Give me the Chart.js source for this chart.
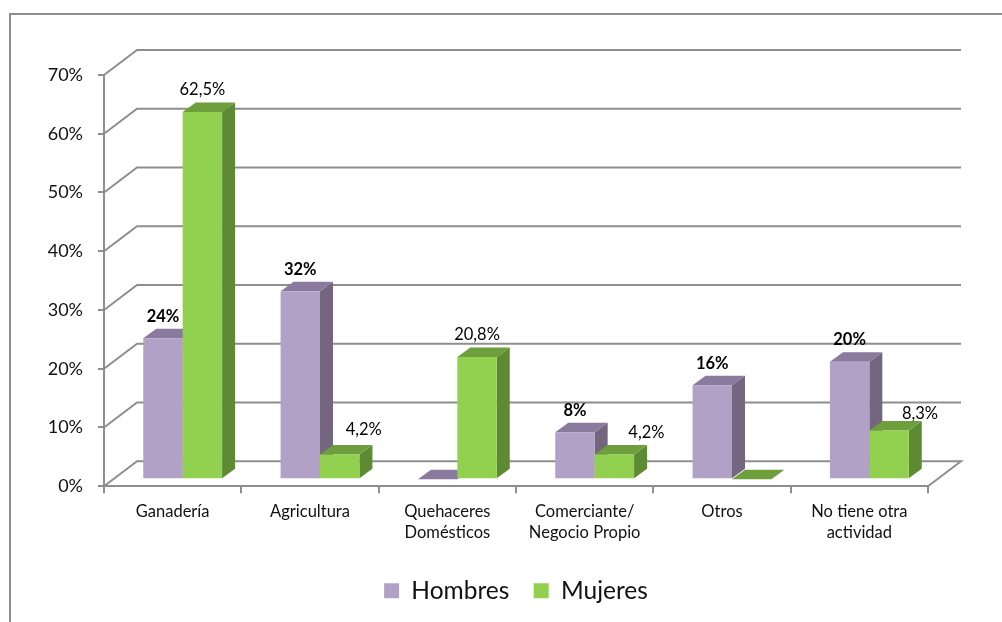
<!DOCTYPE html>
<html>
<head>
<meta charset="utf-8">
<title>Actividad por sexo</title>
<script src="https://cdn.jsdelivr.net/npm/chart.js@4"></script>
<style>
  html, body { margin: 0; padding: 0; background: #fff; }
  #wrap { width: 1002px; height: 622px; }
</style>
</head>
<body>
<div id="wrap"><canvas id="chart" width="1002" height="622"></canvas></div>
<script>
const categories = ["Ganadería", "Agricultura", ["Quehaceres", "Domésticos"], ["Comerciante/", "Negocio Propio"], "Otros", ["No tiene otra", "actividad"]];
const hombres = [24, 32, 0, 8, 16, 20];
const mujeres = [62.5, 4.2, 20.8, 4.2, 0, 8.3];
const yTicks = [0, 10, 20, 30, 40, 50, 60, 70];

const GRAY = '#8e8e8e';
// how far the back wall sits from the front of the axes
const WALL = { dx: 33, dy: -25 };
// the bars stand a bit inside the floor, and have their own depth
const BAR_SHIFT = { dx: 10, dy: -7 };
const BAR_DEPTH = { dx: 13, dy: -9.5 };

const faces = {
  Hombres: { front: '#b2a1c7', top: '#8a7a9e', side: '#75667f', weight: 'bold' },
  Mujeres: { front: '#92d050', top: '#6f9e3c', side: '#5e8a33', weight: 'normal' }
};

// some labels got dragged by hand in the original
const labelNudge = {
  Hombres: [[0, 0], [0, 0], [0, 0], [0, 0], [0, 0], [0, 0]],
  Mujeres: [[0, 0], [24, -3], [0, 0], [32, 0], [0, 0], [31, 5]]
};

function poly(ctx, pts, color) {
  ctx.fillStyle = color;
  ctx.beginPath();
  pts.forEach((p, i) => i ? ctx.lineTo(p[0], p[1]) : ctx.moveTo(p[0], p[1]));
  ctx.closePath();
  ctx.fill();
}

const box3d = {
  id: 'box3d',
  beforeDraw(chart) {
    // outer frame, runs off the page on the right and bottom
    const ctx = chart.ctx;
    ctx.save();
    ctx.strokeStyle = GRAY;
    ctx.lineWidth = 2;
    ctx.beginPath();
    ctx.moveTo(10, 622);
    ctx.lineTo(10, 14);
    ctx.lineTo(1002, 14);
    ctx.stroke();
    ctx.restore();
  },
  beforeDatasetsDraw(chart) {
    const ctx = chart.ctx, y = chart.scales.y, a = chart.chartArea;
    ctx.save();
    ctx.strokeStyle = GRAY;
    ctx.lineWidth = 2;
    yTicks.forEach(v => {
      const py = y.getPixelForValue(v);
      ctx.beginPath();
      ctx.moveTo(a.left, py);
      ctx.lineTo(a.left + WALL.dx, py + WALL.dy);
      ctx.lineTo(a.right + WALL.dx, py + WALL.dy);
      if (v === 0) ctx.lineTo(a.right, py);
      ctx.stroke();
    });
    ctx.restore();
  },
  // chart.js paints the last dataset first, here the green has to land over the purple
  beforeDatasetDraw() {
    return false;
  },
  afterDatasetsDraw(chart) {
    const ctx = chart.ctx;
    chart.data.datasets.forEach((ds, i) => {
      const f = faces[ds.label];
      ctx.save();
      ctx.translate(BAR_SHIFT.dx, BAR_SHIFT.dy);
      chart.getDatasetMeta(i).data.forEach(bar => {
        const l = bar.x - bar.width / 2, r = bar.x + bar.width / 2;
        const t = bar.y, b = bar.base, dx = BAR_DEPTH.dx, dy = BAR_DEPTH.dy;
        poly(ctx, [[r, t], [r + dx, t + dy], [r + dx, b + dy], [r, b]], f.side);
        poly(ctx, [[l, t], [l + dx, t + dy], [r + dx, t + dy], [r, t]], f.top);
        bar.draw(ctx);
      });
      ctx.restore();
    });

    ctx.save();
    ctx.fillStyle = '#000';
    ctx.textAlign = 'center';
    ctx.textBaseline = 'middle';
    chart.data.datasets.forEach((ds, i) => {
      const f = faces[ds.label];
      chart.getDatasetMeta(i).data.forEach((bar, j) => {
        if (!ds.data[j]) return;
        const n = labelNudge[ds.label][j];
        ctx.font = f.weight + ' 16.5px Lato';
        ctx.fillText(String(ds.data[j]).replace('.', ',') + '%',
          bar.x + BAR_SHIFT.dx + n[0], bar.y + BAR_SHIFT.dy - 22 + n[1]);
      });
    });
    ctx.restore();
  }
};

new Chart(document.getElementById('chart').getContext('2d'), {
  type: 'bar',
  plugins: [box3d],
  data: {
    labels: categories,
    datasets: [
      { label: 'Hombres', data: hombres, backgroundColor: faces.Hombres.front,
        categoryPercentage: 0.574, barPercentage: 1 },
      { label: 'Mujeres', data: mujeres, backgroundColor: faces.Mujeres.front,
        categoryPercentage: 0.574, barPercentage: 1 }
    ]
  },
  options: {
    responsive: false,
    animation: false,
    layout: { padding: { left: 0, right: 74, top: 75, bottom: 9 } },
    scales: {
      x: {
        afterFit: s => { s.height = 68; },
        grid: { drawOnChartArea: false, tickLength: 7, color: GRAY, lineWidth: 2, offset: true },
        border: { color: GRAY, width: 2 },
        ticks: {
          color: '#111',
          padding: 7,
          maxRotation: 0,
          autoSkip: false,
          font: { family: 'Lato', size: 16.5, lineHeight: 1.33 }
        }
      },
      y: {
        min: 0,
        max: 70,
        afterFit: s => { s.width = 104; },
        afterBuildTicks: s => { s.ticks = yTicks.map(v => ({ value: v })); },
        grid: { drawOnChartArea: false, tickLength: 6, color: GRAY, lineWidth: 2 },
        border: { color: GRAY, width: 2 },
        ticks: {
          color: '#111',
          padding: 15,
          font: { family: 'Lato', size: 18 },
          callback: v => v + '%'
        }
      }
    },
    plugins: {
      tooltip: { enabled: false },
      legend: {
        position: 'bottom',
        fullSize: false,
        labels: {
          color: '#111',
          boxWidth: 15,
          boxHeight: 15,
          padding: 24.3,
          font: { family: 'Lato', size: 24.5 }
        }
      }
    }
  }
});
</script>
</body>
</html>
